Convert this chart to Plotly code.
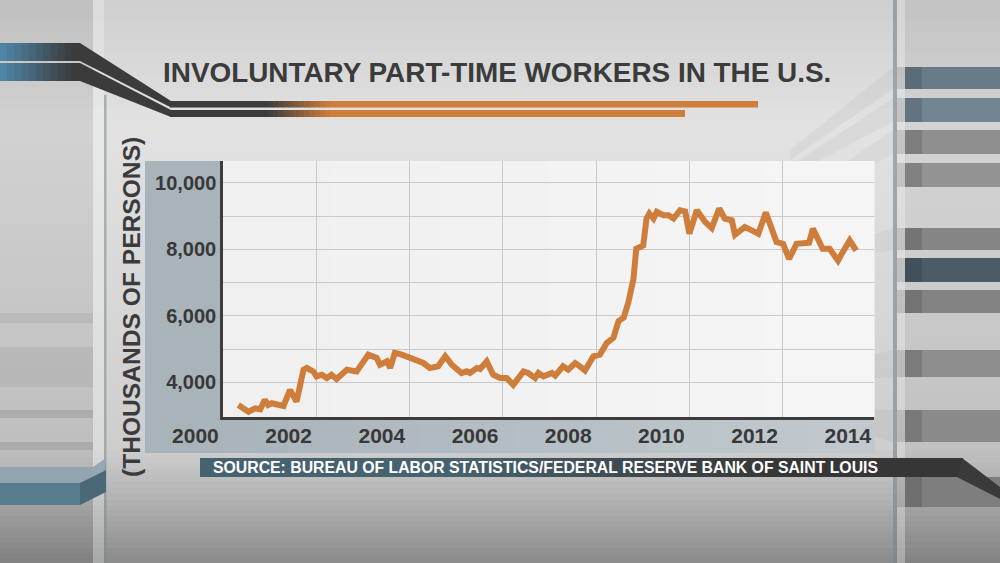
import plotly.graph_objects as go

W, H = 1000, 563

# ---------------- data ----------------
years = [2000.92, 2001.14, 2001.28, 2001.39, 2001.49, 2001.56, 2001.64, 2001.82, 2001.89,
         2002.03, 2002.17, 2002.32, 2002.39, 2002.53, 2002.60, 2002.71, 2002.82, 2002.92,
         2003.03, 2003.25, 2003.46, 2003.71, 2003.89, 2003.96, 2004.11, 2004.18, 2004.28,
         2004.43, 2004.68, 2004.78, 2004.89, 2005.03, 2005.21, 2005.36, 2005.50, 2005.71,
         2005.82, 2005.89, 2006.04, 2006.11, 2006.25, 2006.39, 2006.54, 2006.68, 2006.82,
         2007.04, 2007.14, 2007.29, 2007.36, 2007.47, 2007.65, 2007.72, 2007.89, 2008.00,
         2008.15, 2008.25, 2008.36, 2008.54, 2008.68, 2008.83, 2008.97, 2009.08, 2009.19,
         2009.29, 2009.40, 2009.46, 2009.61, 2009.68, 2009.74, 2009.83, 2009.90, 2010.04,
         2010.15, 2010.26, 2010.40, 2010.51, 2010.60, 2010.76, 2010.94, 2011.08, 2011.24,
         2011.36, 2011.51, 2011.58, 2011.79, 2011.94, 2012.08, 2012.24, 2012.47, 2012.61,
         2012.74, 2012.90, 2013.08, 2013.17, 2013.25, 2013.46, 2013.61, 2013.79, 2013.89,
         2014.04, 2014.18]
values = [3318, 3115, 3218, 3188, 3470, 3318, 3370, 3318, 3288,
          3773, 3418, 4379, 4430, 4327, 4176, 4227, 4127, 4227,
          4097, 4379, 4327, 4833, 4733, 4530, 4630, 4430, 4885,
          4833, 4682, 4630, 4580, 4430, 4480, 4783, 4530, 4279,
          4330, 4279, 4430, 4400, 4630, 4227, 4127, 4127, 3924,
          4327, 4279, 4127, 4279, 4180, 4279, 4200, 4480, 4379,
          4580, 4480, 4357, 4783, 4833, 5188, 5339, 5842, 5945,
          6400, 7106, 8015, 8115, 8924, 9075, 8924, 9127, 9024,
          9024, 8924, 9175, 9140, 8470, 9175, 8824, 8642, 9227,
          8924, 8872, 8440, 8672, 8570, 8470, 9106, 8218, 8166,
          7712, 8166, 8218, 8200, 8621, 8015, 8015, 7660, 7915,
          8267, 7964]

y_grid_vals = [4000, 5000, 6000, 7000, 8000, 9000, 10000]
y_grid_text = ["4,000", "", "6,000", "", "8,000", "", "10,000"]
x_label_years = [2000, 2002, 2004, 2006, 2008, 2010, 2012, 2014]
x_label_text = ["2000", "2002", "2004", "2006", "2008", "2010", "2012", "2014"]

title_text = "INVOLUNTARY PART-TIME WORKERS IN THE U.S."
y_title_text = "(THOUSANDS OF PERSONS)"
source_text = "SOURCE: BUREAU OF LABOR STATISTICS/FEDERAL RESERVE BANK OF SAINT LOUIS"

# ---------------- helpers for decorative shapes ----------------
def px(x):
    return x / W

def py(y):
    return 1 - y / H

def hx(c):
    c = c.lstrip('#')
    return [int(c[i:i + 2], 16) for i in (0, 2, 4)]

def mix(c0, c1, t):
    a, b = hx(c0), hx(c1)
    return '#%02x%02x%02x' % tuple(int(round(a[i] + (b[i] - a[i]) * t)) for i in range(3))

shapes = []

def rect(x0, y0, x1, y1, color, opacity=1.0):
    shapes.append(dict(type='rect', xref='paper', yref='paper', x0=px(x0), x1=px(x1),
                       y0=py(y1), y1=py(y0), fillcolor=color, opacity=opacity,
                       line=dict(width=0), layer='below'))

def poly(pts, color, opacity=1.0):
    path = 'M ' + ' L '.join('%.5f,%.5f' % (px(a), py(b)) for a, b in pts) + ' Z'
    shapes.append(dict(type='path', xref='paper', yref='paper', path=path,
                       fillcolor=color, opacity=opacity, line=dict(width=0), layer='below'))

def hgrad(x0, x1, y0, y1, c0, c1, n):
    step = (x1 - x0) / n
    for i in range(n):
        rect(x0 + i * step, y0, x0 + (i + 1) * step + 0.6, y1, mix(c0, c1, (i + 0.5) / n))

def vgrad(x0, x1, y0, y1, c0, c1, n):
    step = (y1 - y0) / n
    for i in range(n):
        rect(x0, y0 + i * step, x1, y0 + (i + 1) * step + 0.6, mix(c0, c1, (i + 0.5) / n))

# background (studio backdrop)
vgrad(0, W, 0, 130, '#cfcfcf', '#e2e2e2', 12)
vgrad(0, W, 130, 450, '#e2e2e2', '#cdcdcd', 20)
vgrad(0, W, 450, 500, '#cdcdcd', '#b2b2b2', 8)
vgrad(0, W, 500, H, '#b2b2b2', '#8a8a8a', 12)

# left column
rect(0, 0, 93, H, '#000000', 0.07)
rect(93, 0, 104, H, '#ffffff', 0.25)
rect(104, 95, 106.5, H, '#7d8a92', 0.55)
for y0, y1, op in [(313, 323, 0.06), (347, 387, 0.06), (410, 418, 0.1), (442, 450, 0.1)]:
    rect(0, y0, 93, y1, '#000000', op)
poly([(0, 467), (93, 467), (106, 458), (106, 470), (80, 483), (0, 483)], '#8fa3ae', 0.9)
rect(0, 483, 80, 505, '#587a8d')
poly([(80, 483), (106, 470), (106, 492), (80, 505)], '#4a6877')

# right column
rect(893, 0, W, H, '#000000', 0.06)
rect(893, 0, 897, H, '#7d8a92', 0.6)
rect(897, 0, 905, H, '#ffffff', 0.3)
right_bands = [(67, 89, '#687b87'), (98, 122, '#718592'), (130, 154, '#8f8f8f'),
               (163, 187, '#939393'), (228, 250, '#858585'), (258, 282, '#4b5c67'),
               (290, 313, '#838383'), (350, 377, '#8d8d8d'), (410, 442, '#8a8a8a'),
               (477, 507, '#7e7e7e')]
for y0, y1, c in right_bands:
    rect(905, y0, W, y1, c)
    rect(897, y0, 922, y1, '#000000', 0.12)
# faint perspective beams from right column toward centre
for (a0, a1, b0, b1, op) in [(67, 89, 150, 160, 0.035), (98, 122, 166, 176, 0.03),
                              (130, 154, 200, 210, 0.03), (228, 250, 262, 270, 0.03),
                              (350, 377, 372, 382, 0.03), (410, 442, 405, 416, 0.035)]:
    poly([(893, a0), (893, a1), (790, b1), (790, b0)], '#000000', op)

# top-left swoosh and orange underline bars
poly([(0, 43), (80, 43), (171, 101), (171, 107.5), (80, 61), (0, 61)], '#3b3b3b')
poly([(0, 63), (80, 63), (171, 110), (171, 117), (80, 81), (0, 81)], '#3b3b3b')
hgrad(0, 72, 43, 61, '#5088aa', '#3b3b3b', 10)
hgrad(0, 72, 63, 81, '#5088aa', '#3b3b3b', 10)
rect(170, 101, 268, 107.5, '#3b3b3b')
rect(170, 110, 268, 117, '#3b3b3b')
hgrad(268, 330, 101, 107.5, '#3b3b3b', '#cf7d3a', 12)
hgrad(268, 330, 110, 117, '#3b3b3b', '#cf7d3a', 12)
rect(330, 101, 758, 107.5, '#cf7d3a')
rect(330, 110, 685, 117, '#cf7d3a')

# chart panel (blue-grey frame) and plotting area
rect(145, 161, 874, 453, '#a9b3ba')
hgrad(223, 874, 417, 453, '#a9b3ba', '#c2cacf', 20)
hgrad(223, 874, 161, 417, '#efefef', '#f6f6f6', 6)

# source bar
rect(200, 458, 450, 477, '#47626f')
hgrad(450, 780, 458, 477, '#47626f', '#363636', 20)
rect(780, 458, 963, 477, '#363636')
poly([(962, 458), (1000, 487), (1000, 499), (957, 477)], '#3a3a3a')

# ---------------- figure ----------------
fig = go.Figure()

fig.add_trace(go.Scatter(
    x=years, y=values, mode='lines',
    line=dict(color='#cf7d3a', width=6),
    hoverinfo='skip', showlegend=False, xaxis='x', yaxis='y'))

# empty trace to host the year-label axis
fig.add_trace(go.Scatter(x=[], y=[], xaxis='x2', yaxis='y2', showlegend=False,
                         hoverinfo='skip'))

label_font = dict(family='Liberation Sans, Arial, sans-serif', color='#383838')

fig.update_layout(
    width=W, height=H, autosize=False,
    margin=dict(l=0, r=0, t=0, b=0),
    paper_bgcolor='#d6d6d6',
    plot_bgcolor='rgba(0,0,0,0)',
    shapes=shapes,
    xaxis=dict(domain=[px(223), px(874)], range=[2000.592, 2014.562],
               tick0=2000.6, dtick=2, showticklabels=False, ticks='',
               showgrid=True, gridcolor='#c9c9c9', gridwidth=1,
               showline=True, linecolor='#3c3c3c', linewidth=2.5,
               zeroline=False, anchor='y', fixedrange=True),
    yaxis=dict(domain=[py(417), py(161)], range=[2956, 10656],
               tickmode='array', tickvals=y_grid_vals, ticktext=y_grid_text,
               ticks='', showgrid=True, gridcolor='#c9c9c9', gridwidth=1,
               showline=True, linecolor='#3c3c3c', linewidth=2.5,
               zeroline=False, anchor='x', ticklabelstandoff=0,
               tickfont=dict(size=20, weight='bold', **label_font), fixedrange=True),
    xaxis2=dict(domain=[px(145), px(874)], range=[1998.918, 2014.562],
                tickmode='array', tickvals=x_label_years, ticktext=x_label_text,
                ticks='', showgrid=False, showline=False, zeroline=False,
                anchor='y2', tickfont=dict(size=21, weight='bold', **label_font),
                fixedrange=True),
    yaxis2=dict(domain=[py(421), py(419)], visible=False, anchor='x2', fixedrange=True),
    annotations=[
        dict(text='<b>%s</b>' % title_text, x=px(497), y=py(73), xref='paper', yref='paper',
             xanchor='center', yanchor='middle', showarrow=False,
             font=dict(family='Liberation Sans, Arial, sans-serif', size=27.9, color='#3b3b3b')),
        dict(text='<b>%s</b>' % y_title_text, x=px(131), y=py(307), xref='paper', yref='paper',
             xanchor='center', yanchor='middle', showarrow=False, textangle=-90,
             font=dict(family='Liberation Sans, Arial, sans-serif',
                       size=24.6, color='#3b3b3b')),
        dict(text='<b>%s</b>' % source_text, x=px(211), y=py(467.5), xref='paper', yref='paper',
             xanchor='left', yanchor='middle', showarrow=False,
             font=dict(family='Liberation Sans, Arial, sans-serif', size=15.8, color='#ffffff')),
    ],
)

fig.write_html('out.html', config={'displayModeBar': False},
               post_script="document.body.style.margin='0px';")
